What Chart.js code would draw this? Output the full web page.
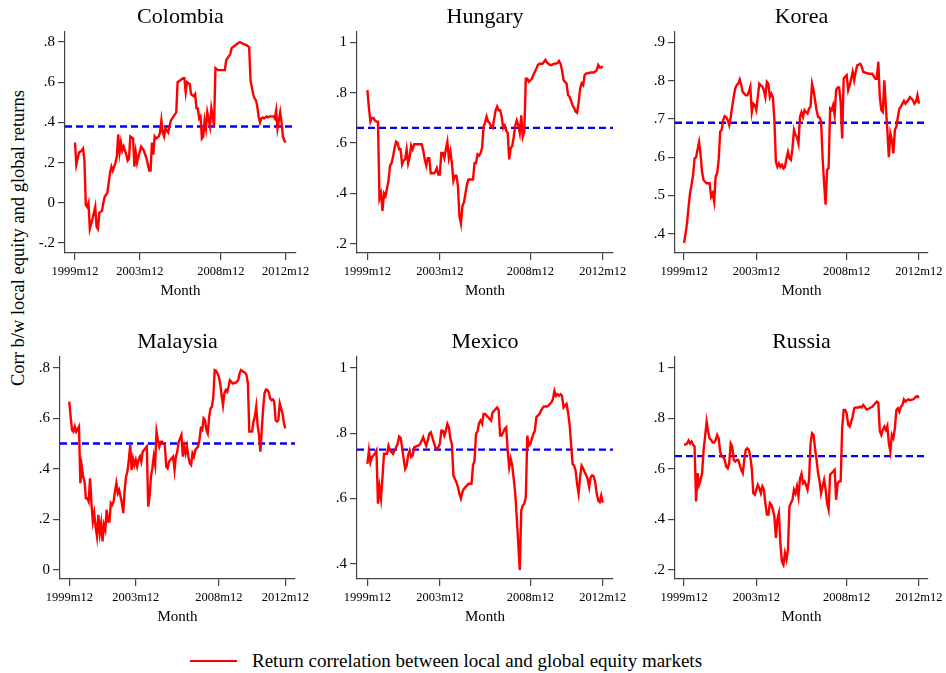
<!DOCTYPE html>
<html>
<head>
<meta charset="utf-8">
<script src="https://cdn.jsdelivr.net/npm/chart.js@4.4.1/dist/chart.umd.min.js"></script>
<style>
  body { margin: 0; background: #fff; width: 946px; height: 673px; position: relative; overflow: hidden;
         font-family: "Liberation Serif", "Times New Roman", serif; color: #000; }
  canvas { position: absolute; }
  #ytitle { position: absolute; left: 18px; top: 238px; transform: translate(-50%, -50%) rotate(-90deg);
            white-space: nowrap; font-size: 18.5px; }
  #legend { position: absolute; left: 190px; top: 650px; font-size: 19px; line-height: 22px; display: flex; align-items: center; }
  #legend .swatch { display: inline-block; width: 47px; height: 2px; background: #ff0000; margin-right: 15px; }
</style>
</head>
<body>
<div id="ytitle">Corr b/w local equity and global returns</div>
<div id="legend"><span class="swatch"></span>Return correlation between local and global equity markets</div>
<script>
/* data: [month index from 1999m12, correlation] */
const countries = ["Colombia", "Hungary", "Korea", "Malaysia", "Mexico", "Russia"];
const meanCorr = [0.38, 0.66, 0.69, 0.50, 0.75, 0.65];

const xTickMonths = [0, 48, 108, 156];
const xTickLabels = ["1999m12", "2003m12", "2008m12", "2012m12"];

const colombiaTicks = [-0.2, 0, 0.2, 0.4, 0.6, 0.8];
const hungaryTicks = [0.2, 0.4, 0.6, 0.8, 1];
const koreaTicks = [0.4, 0.5, 0.6, 0.7, 0.8, 0.9];
const malaysiaTicks = [0, 0.2, 0.4, 0.6, 0.8];
const mexicoTicks = [0.4, 0.6, 0.8, 1];
const russiaTicks = [0.2, 0.4, 0.6, 0.8, 1];

const colombia = [[0,.30],[1,.19],[3,.25],[5,.26],[6,.27],[7,.21],[8,-.01],[9,-.02],[10,0],[11,-.13],[13,-.08],[14,-.05],[15,-.02],[16,-.12],[17,-.13],[18,-.05],[20,-.04],[21,0],[22,.03],[24,.05],[25,.10],[26,.15],[27,.18],[28,.16],[30,.20],[31,.23],[32,.34],[33,.25],[34,.30],[35,.26],[36,.28],[38,.24],[39,.21],[40,.22],[41,.33],[43,.32],[44,.18],[45,.25],[46,.20],[47,.23],[49,.28],[51,.26],[53,.22],[55,.16],[56,.16],[57,.30],[58,.24],[59,.33],[60,.32],[62,.33],[63,.35],[64,.41],[65,.35],[66,.33],[67,.37],[69,.35],[70,.38],[71,.41],[73,.43],[75,.45],[76,.60],[78,.61],[80,.62],[81,.62],[82,.55],[83,.60],[85,.59],[86,.54],[88,.53],[89,.54],[90,.47],[91,.47],[92,.42],[93,.43],[94,.32],[95,.33],[96,.41],[97,.37],[98,.45],[100,.38],[101,.47],[102,.43],[103,.38],[104,.67],[106,.66],[108,.66],[111,.66],[112,.71],[113,.72],[115,.74],[116,.77],[118,.78],[120,.79],[122,.80],[125,.79],[127,.785],[129,.775],[130,.61],[131,.575],[132,.54],[133,.52],[134,.51],[135,.48],[136,.43],[137,.40],[138,.42],[139,.425],[140,.42],[142,.43],[143,.425],[144,.43],[146,.43],[147,.43],[148,.42],[149,.46],[150,.37],[151,.41],[152,.45],[153,.40],[154,.33],[155,.31],[156,.30]];

const hungary = [[0,.81],[1,.74],[2,.685],[3,.70],[4,.70],[5,.69],[6,.685],[7,.685],[8,.38],[9,.40],[10,.33],[11,.40],[12,.39],[14,.45],[15,.51],[16,.52],[17,.545],[18,.58],[19,.605],[20,.60],[21,.575],[22,.575],[23,.515],[24,.53],[25,.535],[26,.575],[27,.52],[28,.545],[29,.59],[30,.575],[31,.595],[33,.595],[36,.595],[37,.57],[38,.535],[39,.51],[40,.54],[41,.54],[42,.48],[44,.48],[45,.485],[46,.50],[47,.475],[48,.475],[49,.56],[50,.56],[51,.54],[52,.575],[53,.605],[54,.54],[55,.567],[56,.52],[57,.45],[58,.47],[59,.47],[60,.43],[61,.31],[62,.28],[63,.35],[64,.365],[65,.40],[66,.435],[67,.455],[68,.455],[70,.455],[71,.52],[72,.52],[73,.555],[74,.55],[75,.56],[76,.58],[77,.665],[78,.68],[79,.705],[80,.685],[81,.68],[82,.665],[83,.66],[84,.695],[85,.73],[86,.745],[87,.73],[88,.73],[89,.705],[90,.66],[91,.67],[92,.65],[93,.64],[94,.535],[95,.58],[96,.587],[97,.625],[98,.67],[99,.69],[100,.67],[101,.64],[102,.71],[103,.625],[104,.645],[105,.855],[106,.855],[107,.843],[109,.855],[110,.87],[111,.883],[112,.896],[113,.91],[114,.915],[116,.915],[118,.93],[119,.92],[121,.91],[122,.91],[124,.915],[126,.917],[127,.926],[128,.915],[129,.89],[130,.85],[131,.843],[132,.837],[133,.79],[134,.784],[136,.75],[137,.74],[138,.725],[139,.72],[140,.76],[141,.817],[142,.837],[143,.83],[144,.87],[145,.876],[148,.88],[150,.88],[151,.884],[152,.89],[153,.91],[154,.90],[155,.90],[156,.905]];

const korea = [[0,.376],[1,.40],[2,.428],[3,.47],[4,.506],[5,.528],[6,.553],[7,.597],[8,.60],[9,.62],[10,.64],[11,.606],[12,.56],[13,.54],[14,.536],[15,.532],[17,.532],[18,.497],[19,.506],[20,.484],[21,.55],[22,.558],[23,.593],[24,.667],[25,.671],[26,.697],[27,.707],[28,.705],[29,.697],[30,.684],[31,.705],[32,.732],[33,.758],[34,.78],[35,.788],[36,.792],[37,.803],[38,.788],[39,.77],[41,.762],[42,.762],[43,.77],[44,.784],[45,.718],[46,.74],[47,.736],[48,.723],[49,.758],[50,.792],[51,.788],[52,.784],[53,.775],[54,.757],[55,.797],[56,.792],[57,.757],[58,.766],[59,.757],[60,.697],[61,.588],[62,.575],[63,.584],[64,.575],[65,.58],[66,.571],[67,.575],[68,.597],[69,.614],[70,.597],[71,.593],[72,.623],[73,.671],[74,.658],[75,.653],[76,.636],[77,.705],[78,.718],[79,.705],[80,.723],[81,.718],[82,.714],[83,.727],[84,.732],[85,.792],[86,.775],[87,.749],[88,.723],[89,.705],[90,.704],[91,.693],[92,.60],[93,.532],[94,.476],[95,.567],[96,.571],[97,.727],[98,.723],[99,.736],[100,.71],[101,.775],[102,.782],[103,.782],[104,.745],[105,.649],[106,.805],[107,.81],[108,.814],[109,.775],[110,.788],[111,.805],[112,.823],[113,.801],[114,.823],[115,.84],[117,.844],[118,.837],[119,.823],[121,.82],[123,.818],[125,.818],[126,.811],[127,.805],[128,.805],[129,.849],[130,.757],[131,.723],[132,.718],[133,.801],[134,.732],[135,.671],[136,.60],[137,.662],[138,.645],[139,.61],[140,.671],[141,.68],[142,.705],[143,.727],[144,.732],[145,.74],[146,.747],[147,.74],[148,.745],[149,.75],[150,.757],[151,.753],[152,.749],[153,.74],[154,.745],[155,.762],[156,.74]];

const malaysia = [[0,.666],[1,.606],[2,.554],[3,.547],[4,.567],[5,.547],[6,.556],[7,.567],[8,.343],[9,.41],[10,.369],[11,.35],[12,.283],[13,.283],[14,.27],[15,.362],[16,.264],[17,.191],[18,.224],[19,.171],[20,.132],[21,.217],[22,.145],[23,.185],[24,.112],[25,.178],[26,.158],[27,.237],[28,.191],[29,.191],[30,.264],[31,.257],[32,.27],[33,.31],[34,.343],[35,.303],[36,.316],[37,.29],[38,.264],[39,.224],[40,.316],[41,.369],[42,.389],[43,.435],[44,.494],[45,.395],[46,.44],[47,.415],[48,.435],[49,.409],[50,.435],[51,.448],[52,.428],[53,.468],[54,.474],[55,.481],[56,.488],[57,.25],[58,.29],[59,.369],[60,.402],[61,.448],[62,.415],[63,.547],[64,.514],[65,.488],[66,.507],[67,.507],[68,.50],[69,.494],[70,.409],[71,.402],[72,.428],[73,.435],[74,.441],[75,.448],[76,.395],[77,.448],[78,.468],[79,.507],[80,.52],[81,.534],[82,.448],[83,.488],[84,.461],[85,.488],[86,.448],[87,.422],[88,.415],[89,.461],[90,.448],[91,.474],[92,.481],[93,.488],[94,.514],[95,.56],[96,.554],[97,.60],[98,.593],[99,.554],[100,.54],[101,.606],[102,.639],[103,.646],[104,.685],[105,.791],[106,.788],[107,.778],[108,.764],[109,.738],[110,.692],[111,.652],[112,.699],[113,.712],[114,.705],[115,.725],[116,.751],[117,.745],[118,.738],[119,.74],[120,.74],[121,.745],[122,.751],[123,.778],[124,.791],[126,.784],[127,.78],[128,.771],[129,.738],[130,.547],[131,.547],[132,.547],[133,.587],[134,.606],[135,.646],[136,.573],[137,.534],[138,.468],[139,.554],[140,.639],[141,.699],[142,.714],[143,.712],[144,.705],[145,.679],[146,.672],[147,.675],[148,.666],[149,.593],[150,.587],[151,.593],[152,.659],[153,.639],[154,.62],[155,.58],[156,.56]];

const mexico = [[0,.706],[1,.747],[2,.711],[3,.727],[4,.732],[5,.737],[6,.747],[7,.584],[8,.635],[9,.60],[10,.666],[11,.737],[13,.737],[14,.762],[15,.747],[16,.742],[17,.737],[18,.747],[19,.757],[20,.767],[21,.79],[22,.786],[23,.757],[24,.722],[25,.691],[26,.701],[27,.732],[28,.747],[29,.727],[30,.732],[31,.757],[32,.759],[33,.762],[34,.762],[35,.767],[36,.778],[37,.788],[38,.773],[39,.762],[40,.778],[41,.798],[42,.803],[43,.788],[44,.773],[45,.757],[46,.752],[47,.757],[48,.767],[49,.808],[50,.808],[51,.793],[52,.808],[53,.829],[54,.818],[55,.783],[56,.767],[57,.671],[58,.66],[59,.65],[60,.635],[61,.615],[62,.60],[63,.62],[64,.63],[65,.635],[66,.64],[67,.645],[68,.645],[69,.645],[70,.701],[71,.716],[72,.798],[73,.806],[74,.831],[75,.839],[76,.829],[77,.859],[78,.859],[79,.854],[80,.849],[81,.844],[82,.839],[83,.864],[84,.869],[85,.874],[86,.879],[87,.871],[88,.793],[89,.793],[90,.803],[91,.813],[92,.818],[93,.747],[94,.696],[95,.722],[96,.701],[97,.66],[98,.615],[99,.543],[100,.462],[101,.381],[102,.564],[103,.579],[104,.584],[105,.604],[106,.793],[107,.762],[108,.767],[109,.783],[110,.798],[111,.808],[112,.849],[113,.854],[114,.859],[115,.869],[116,.877],[117,.882],[119,.882],[120,.885],[121,.89],[122,.895],[123,.905],[124,.93],[125,.915],[126,.92],[127,.915],[128,.92],[129,.915],[130,.879],[131,.885],[132,.89],[133,.864],[134,.829],[135,.768],[136,.706],[137,.701],[138,.686],[139,.645],[140,.615],[141,.666],[142,.701],[143,.693],[144,.681],[145,.671],[146,.66],[147,.635],[148,.666],[149,.671],[150,.668],[151,.65],[152,.615],[153,.594],[154,.589],[155,.609],[156,.587]];

const russia = [[0,.695],[1,.697],[2,.70],[3,.712],[4,.70],[5,.708],[6,.695],[7,.688],[8,.47],[9,.583],[10,.536],[11,.556],[12,.583],[13,.675],[14,.728],[15,.787],[16,.747],[17,.72],[18,.714],[19,.704],[20,.704],[21,.714],[22,.734],[23,.72],[24,.668],[25,.648],[26,.648],[27,.635],[28,.609],[29,.602],[30,.622],[31,.70],[32,.688],[33,.635],[34,.629],[35,.635],[36,.635],[37,.615],[38,.596],[39,.583],[40,.635],[41,.675],[42,.681],[43,.675],[44,.648],[45,.60],[46,.503],[47,.497],[48,.517],[49,.536],[50,.523],[51,.503],[52,.53],[53,.517],[54,.464],[55,.418],[56,.418],[57,.464],[58,.457],[59,.438],[60,.411],[61,.326],[62,.40],[63,.424],[64,.30],[65,.233],[66,.22],[67,.266],[68,.24],[69,.279],[70,.45],[71,.464],[72,.477],[73,.517],[74,.503],[75,.53],[76,.49],[77,.56],[78,.58],[79,.543],[80,.55],[81,.536],[82,.517],[83,.556],[84,.70],[85,.741],[86,.735],[87,.68],[88,.635],[89,.583],[90,.55],[91,.503],[92,.53],[93,.556],[94,.52],[95,.464],[96,.438],[97,.576],[98,.583],[99,.589],[100,.596],[101,.477],[102,.543],[103,.55],[104,.55],[105,.76],[106,.833],[107,.833],[108,.82],[109,.774],[110,.767],[111,.787],[112,.807],[113,.84],[114,.843],[116,.843],[117,.846],[118,.843],[119,.853],[120,.846],[121,.836],[122,.836],[124,.843],[125,.846],[126,.853],[128,.866],[129,.862],[130,.75],[131,.734],[132,.754],[133,.767],[134,.754],[135,.77],[136,.701],[137,.668],[138,.734],[139,.721],[140,.76],[141,.833],[142,.84],[143,.826],[144,.846],[145,.853],[146,.875],[147,.866],[148,.872],[149,.875],[150,.872],[152,.875],[153,.879],[154,.886],[155,.888],[156,.881]];

const series = [colombia, hungary, korea, malaysia, mexico, russia];
const yTicks = [colombiaTicks, hungaryTicks, koreaTicks, malaysiaTicks, mexicoTicks, russiaTicks];

/* layout of each plot region (pixels) and axis ranges */
const panels = [
  { left: 65,  top: 32,  w: 231, h: 221, x: [-7.4, 163.7], y: [-0.25, 0.85] },
  { left: 357, top: 32,  w: 256, h: 221, x: [-6.9, 162.8], y: [0.163, 1.041] },
  { left: 675, top: 32,  w: 253, h: 221, x: [-6.0, 162.0], y: [0.35, 0.927] },
  { left: 60,  top: 357, w: 235, h: 222, x: [-6.7, 163.0], y: [-0.037, 0.843] },
  { left: 357, top: 357, w: 256, h: 222, x: [-6.9, 162.8], y: [0.353, 1.034] },
  { left: 675, top: 357, w: 253, h: 222, x: [-6.0, 162.0], y: [0.163, 1.043] }
];

const FONT = '"Liberation Serif", "Times New Roman", serif';
const YW = 50, TH = 32, XH = 52, PR = 20;
const AXIS = "#444";

function stataNum(v) {
  if (Math.abs(v) < 1e-9) return "0";
  return String(+v.toFixed(2)).replace(/^(-?)0\./, "$1.");
}

Chart.defaults.font.family = FONT;
Chart.defaults.color = "#000";

countries.forEach((name, i) => {
  const p = panels[i];
  const canvas = document.createElement("canvas");
  canvas.width = YW + p.w + PR;
  canvas.height = TH + p.h + XH;
  canvas.style.left = (p.left - YW) + "px";
  canvas.style.top = (p.top - TH) + "px";
  document.body.appendChild(canvas);

  new Chart(canvas, {
    type: "line",
    data: {
      datasets: [
        {
          data: series[i].map(d => ({ x: d[0], y: d[1] })),
          borderColor: "#ff0000",
          borderWidth: 2.4,
          pointRadius: 0,
          tension: 0
        },
        {
          data: [{ x: p.x[0], y: meanCorr[i] }, { x: p.x[1], y: meanCorr[i] }],
          borderColor: "#0000ff",
          borderWidth: 2.4,
          borderDash: [7, 4],
          pointRadius: 0
        }
      ]
    },
    options: {
      responsive: false,
      animation: false,
      devicePixelRatio: 1,
      layout: { padding: { top: 0, right: PR, bottom: 0, left: 0 } },
      plugins: {
        legend: { display: false },
        tooltip: { enabled: false },
        title: {
          display: true, text: name, fullSize: false,
          font: { size: 22, weight: "normal", family: FONT, lineHeight: 1.2 },
          color: "#000",
          padding: { top: 3.8, bottom: 1.8 }
        }
      },
      scales: {
        x: {
          type: "linear", min: p.x[0], max: p.x[1],
          afterBuildTicks: s => { s.ticks = xTickMonths.map(v => ({ value: v })); },
          afterFit: s => { s.height = XH; },
          ticks: {
            autoSkip: false, maxRotation: 0, padding: 4,
            font: { size: 12.5 },
            callback: v => xTickLabels[xTickMonths.indexOf(v)]
          },
          grid: { drawOnChartArea: false, drawTicks: true, tickLength: 7, color: AXIS, lineWidth: 1.2 },
          border: { display: true, color: AXIS, width: 1.2 },
          title: { display: true, text: "Month", font: { size: 15 }, padding: { top: 0, bottom: 5 } }
        },
        y: {
          min: p.y[0], max: p.y[1],
          afterBuildTicks: s => { s.ticks = yTicks[i].map(v => ({ value: v })); },
          afterFit: s => { s.width = YW; },
          ticks: { padding: 3, font: { size: 15 }, callback: v => stataNum(v) },
          grid: { drawOnChartArea: false, drawTicks: true, tickLength: 7, color: AXIS, lineWidth: 1.2 },
          border: { display: true, color: AXIS, width: 1.2 }
        }
      }
    }
  });
});
</script>
</body>
</html>
